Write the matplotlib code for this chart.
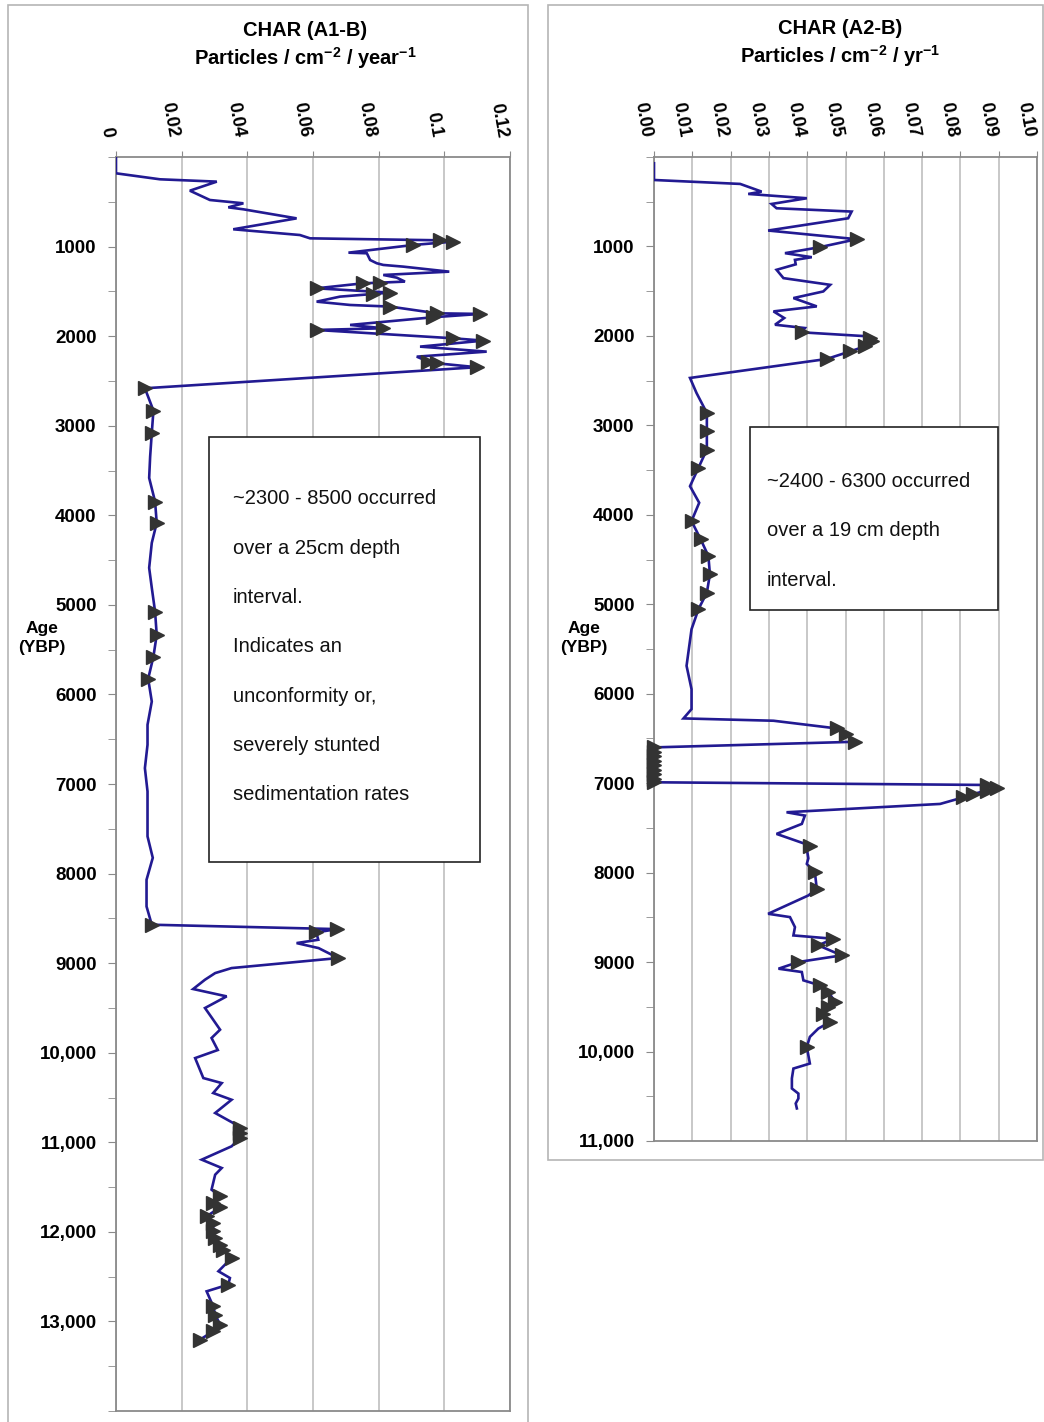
import matplotlib
matplotlib.use("Agg")
import matplotlib.pyplot as plt
import numpy as np
from matplotlib.patches import Rectangle
from matplotlib.ticker import FixedLocator, MultipleLocator

plt.rcParams['font.family'] = ['Liberation Sans', 'DejaVu Sans']
plt.rcParams['mathtext.fontset'] = 'custom'
plt.rcParams['mathtext.rm'] = 'Liberation Sans:bold'
plt.rcParams['mathtext.it'] = 'Liberation Sans:bold'
plt.rcParams['mathtext.bf'] = 'Liberation Sans:bold'
plt.rcParams['mathtext.default'] = 'rm'

# ---------------- data ----------------
a1_age = [0, 182, 249, 275, 376, 480, 517, 562, 584, 685, 807, 871, 908, 930, 945, 982,
          1068, 1075, 1150, 1186, 1205, 1224, 1280, 1317, 1347, 1391, 1403, 1410, 1466,
          1514, 1529, 1559, 1615, 1652, 1670, 1745, 1752, 1789, 1875, 1912, 1931, 2024,
          2050, 2117, 2173, 2229, 2284, 2303, 2347, 2582, 2831, 3080, 3345, 3583, 3847,
          4085, 4308, 4587, 4810, 5075, 5335, 5577, 5826, 6079, 6339, 6562, 6823, 7083,
          7321, 7585, 7824, 8069, 8367, 8571, 8620, 8657, 8739, 8776, 8832, 8943, 9055,
          9111, 9185, 9289, 9371, 9501, 9600, 9743, 9836, 9970, 10060, 10283, 10339,
          10450, 10525, 10673, 10785, 10840, 10896, 10952, 11045, 11194, 11287, 11362,
          11529, 11603, 11676, 11726, 11827, 11900, 11993, 12068, 12142, 12198, 12292,
          12440, 12515, 12589, 12664, 12831, 12924, 13036, 13110, 13203]
a1_char = [0, 0, .0134, .0307, .0225, .0286, .0388, .0342, .0388, .0550, .0357, .0560,
           .0591, .0987, .1027, .0906, .0708, .0764, .0774, .0794, .0814, .0875, .1015,
           .0814, .0855, .0880, .0804, .0753, .0611, .0835, .0784, .0682, .0611, .0713,
           .0835, .0977, .1109, .0966, .0713, .0814, .0611, .1027, .1119, .0926, .1129,
           .0916, .0951, .0977, .1099, .0088, .0114, .0109, .0104, .0101, .0119, .0124,
           .0109, .0101, .0109, .0119, .0124, .0114, .0098, .0109, .0096, .0096, .0088,
           .0096, .0096, .0096, .0112, .0093, .0093, .0109, .0673, .0610, .0616, .0550,
           .0617, .0677, .0352, .0302, .0271, .0235, .0337, .0271, .0290, .0317, .0291,
           .0310, .0241, .0266, .0322, .0296, .0352, .0302, .0357, .0378, .0378, .0378,
           .0352, .0261, .0322, .0302, .0291, .0317, .0296, .0317, .0276, .0296, .0296,
           .0302, .0317, .0327, .0352, .0312, .0347, .0342, .0276, .0296, .0302, .0317,
           .0296, .0256]
a1_mark = [0, 0, 0, 0, 0, 0, 0, 0, 0, 0, 0, 0, 0, 1, 1, 1,
           0, 0, 0, 0, 0, 0, 0, 0, 0, 0, 1, 1, 1,
           1, 1, 0, 0, 0, 1, 1, 1, 1, 0, 1, 1, 1,
           1, 0, 0, 0, 1, 1, 1, 1, 1, 1, 0, 0, 1,
           1, 0, 0, 0, 1, 1, 1, 1, 0, 0, 0, 0, 0,
           0, 0, 0, 0, 0, 1, 1, 1, 0, 0, 0, 1, 0,
           0, 0, 0, 0, 0, 0, 0, 0, 0, 0, 0, 0,
           0, 0, 0, 0, 1, 1, 1, 0, 0, 0, 0,
           0, 1, 1, 1, 1, 1, 1, 1, 1, 1, 1,
           0, 0, 1, 0, 1, 1, 1, 1, 1]

a2_age = [70, 257, 301, 387, 413, 461, 525, 573, 610, 685, 822, 919, 1008, 1075, 1120,
          1150, 1200, 1261, 1354, 1429, 1503, 1577, 1670, 1726, 1800, 1875, 1912, 1960,
          2005, 2024, 2060, 2117, 2173, 2258, 2470, 2638, 2861, 3065, 3270, 3475, 3680,
          3865, 4070, 4275, 4461, 4665, 4870, 5056, 5279, 5688, 5949, 6172, 6276, 6302,
          6388, 6450, 6537, 6600, 6650, 6700, 6750, 6800, 6850, 6900, 6950, 6990, 7020,
          7057, 7083, 7120, 7158, 7232, 7325, 7362, 7455, 7567, 7697, 7760, 7840, 7902,
          7995, 8181, 8255, 8460, 8497, 8609, 8702, 8739, 8813, 8925, 8999, 9074, 9111,
          9204, 9260, 9334, 9445, 9501, 9576, 9669, 9743, 9836, 9948, 10134, 10190,
          10300, 10413, 10470, 10525, 10580, 10636]
a2_char = [0, 0, .0225, .0281, .0246, .0399, .0307, .0320, .0516, .0507, .0298, .0529,
           .0433, .0342, .0412, .0368, .0370, .0320, .0338, .0460, .0442, .0364, .0425,
           .0312, .0340, .0316, .0394, .0386, .0560, .0564, .0570, .0551, .0512, .0451,
           .0094, .0111, .0138, .0138, .0138, .0116, .0094, .0118, .0098, .0122, .0142,
           .0146, .0138, .0116, .0098, .0085, .0098, .0098, .0077, .0312, .0477, .0500,
           .0525, 0, 0, 0, 0, 0, 0, 0, 0, 0, .0869, .0895, .0869, .0834, .0808, .0747,
           .0346, .0394, .0386, .0320, .0407, .0400, .0403, .0399, .0420, .0425, .0403,
           .0298, .0355, .0368, .0364, .0468, .0429, .0490, .0377, .0325, .0386, .0390,
           .0433, .0455, .0473, .0455, .0442, .0460, .0429, .0407, .0399, .0407, .0364,
           .0360, .0360, .0377, .0377, .0370, .0373]
a2_mark = [0, 0, 0, 0, 0, 0, 0, 0, 0, 0, 0, 1, 1, 0, 0,
           0, 0, 0, 0, 0, 0, 0, 0, 0, 0, 0, 0, 1,
           0, 1, 1, 1, 1, 1, 0, 0, 1, 1, 1, 1, 0,
           0, 1, 1, 1, 1, 1, 1, 0, 0, 0, 0, 0, 0,
           1, 1, 1, 1, 1, 1, 1, 1, 1, 1, 1, 1, 1,
           1, 1, 1, 1, 0, 0, 0, 0, 0, 1, 0, 0, 0,
           1, 1, 0, 0, 0, 0, 0, 1, 1, 1, 1, 0, 0,
           0, 1, 1, 1, 1, 1, 1, 0, 0, 1, 0, 0,
           0, 0, 0, 0, 0, 0]

a1_xticks = [0, 0.02, 0.04, 0.06, 0.08, 0.10, 0.12]
a1_xlabels = ["0", "0.02", "0.04", "0.06", "0.08", "0.1", "0.12"]
a2_xticks = [0.00, 0.01, 0.02, 0.03, 0.04, 0.05, 0.06, 0.07, 0.08, 0.09, 0.10]
a2_xlabels = ["0.00", "0.01", "0.02", "0.03", "0.04", "0.05", "0.06", "0.07", "0.08", "0.09", "0.10"]
a1_yticks = [1000, 2000, 3000, 4000, 5000, 6000, 7000, 8000, 9000, 10000, 11000, 12000, 13000]
a2_yticks = [1000, 2000, 3000, 4000, 5000, 6000, 7000, 8000, 9000, 10000, 11000]
ytick_labels = ["1000", "2000", "3000", "4000", "5000", "6000", "7000", "8000", "9000",
                "10,000", "11,000", "12,000", "13,000"]

a1_title = ["CHAR (A1-B)", r"Particles / cm$^{-2}$ / year$^{-1}$"]
a2_title = ["CHAR (A2-B)", r"Particles / cm$^{-2}$ / yr$^{-1}$"]
a1_note = ["~2300 - 8500 occurred", "over a 25cm depth", "interval.", "Indicates an",
           "unconformity or,", "severely stunted", "sedimentation rates"]
a2_note = ["~2400 - 6300 occurred", "over a 19 cm depth", "interval."]

# ---------------- layout ----------------
W, H = 1044, 1422
fig = plt.figure(figsize=(W / 100, H / 100), dpi=100)
fig.patch.set_facecolor('white')

LINE = '#221a92'
MARK = '#333333'
GRID = '#c4c4c4'
SPINE = '#8a8a8a'


def fx(x):
    return x / W


def fy(y):
    return 1 - y / H


def px_axes(x0, y0, x1, y1):
    return fig.add_axes([fx(x0), fy(y1), (x1 - x0) / W, (y1 - y0) / H])


def frame(x0, y0, x1, y1, color, lw):
    fig.patches.append(Rectangle((fx(x0), fy(y1)), (x1 - x0) / W, (y1 - y0) / H,
                                 transform=fig.transFigure, fill=False,
                                 edgecolor=color, lw=lw, zorder=0))


def boxed(x0, y0, x1, y1):
    fig.patches.append(Rectangle((fx(x0), fy(y1)), (x1 - x0) / W, (y1 - y0) / H,
                                 transform=fig.transFigure, facecolor='white',
                                 edgecolor='#222222', lw=1.2, zorder=5))


# outer chart frames
frame(8, 5, 528, 1440, '#b5b5b5', 1.2)
frame(548, 5, 1043, 1160, '#b5b5b5', 1.2)


def setup(ax, xmax, xticks, xlabels, ymax, yticks, age, val, mark):
    ax.set_xlim(0, xmax)
    ax.set_ylim(ymax, 0)
    ax.xaxis.tick_top()
    ax.set_xticks(xticks)
    ax.set_xticklabels(xlabels, rotation=-80, ha='right', va='bottom',
                       fontsize=13, fontweight='bold')
    ax.yaxis.set_major_locator(FixedLocator(yticks))
    ax.set_yticklabels(ytick_labels[:len(yticks)], fontsize=13.5, fontweight='bold')
    ax.yaxis.set_minor_locator(MultipleLocator(500))
    ax.tick_params(axis='x', which='both', length=4, color=SPINE, pad=9, top=True, bottom=False)
    ax.tick_params(axis='y', which='both', length=6, color=SPINE, pad=8)
    ax.grid(axis='x', color=GRID, lw=1.3)
    ax.set_axisbelow(True)
    for s in ax.spines.values():
        s.set_color(SPINE)
        s.set_linewidth(1.3)
    age = np.asarray(age, float)
    val = np.asarray(val, float)
    m = np.asarray(mark, bool)
    ax.plot(val, age, color=LINE, lw=1.9, zorder=3, solid_joinstyle='miter')
    ax.plot(val[m], age[m], ls='none', marker='>', ms=10.5, color=MARK,
            zorder=4, clip_on=False)


ax1 = px_axes(116, 157, 510, 1411)
setup(ax1, 0.12, a1_xticks, a1_xlabels, 14000, a1_yticks, a1_age, a1_char, a1_mark)
ax2 = px_axes(654, 157, 1037, 1141)
setup(ax2, 0.10, a2_xticks, a2_xlabels, 11000, a2_yticks, a2_age, a2_char, a2_mark)

# titles
fig.text(fx(305), fy(30), a1_title[0], ha='center', va='center', fontsize=14.5, fontweight='bold')
fig.text(fx(305), fy(58), a1_title[1], ha='center', va='center', fontsize=14.5, fontweight='bold')
fig.text(fx(840), fy(28), a2_title[0], ha='center', va='center', fontsize=14.5, fontweight='bold')
fig.text(fx(840), fy(56), a2_title[1], ha='center', va='center', fontsize=14.5, fontweight='bold')

# y axis titles
fig.text(fx(42), fy(638), "Age\n(YBP)", ha='center', va='center', fontsize=12.5,
         fontweight='bold', linespacing=1.35)
fig.text(fx(584), fy(638), "Age\n(YBP)", ha='center', va='center', fontsize=12.5,
         fontweight='bold', linespacing=1.35)

# annotation boxes
boxed(209, 437, 480, 862)
for i, line in enumerate(a1_note):
    fig.text(fx(233), fy(499 + 49.3 * i), line, ha='left', va='center', fontsize=14.5,
             color='#111111', zorder=6)
boxed(750, 427, 998, 610)
for i, line in enumerate(a2_note):
    fig.text(fx(767), fy(482 + 49 * i), line, ha='left', va='center', fontsize=14.5,
             color='#111111', zorder=6)

fig.savefig("out.png", dpi=100)
